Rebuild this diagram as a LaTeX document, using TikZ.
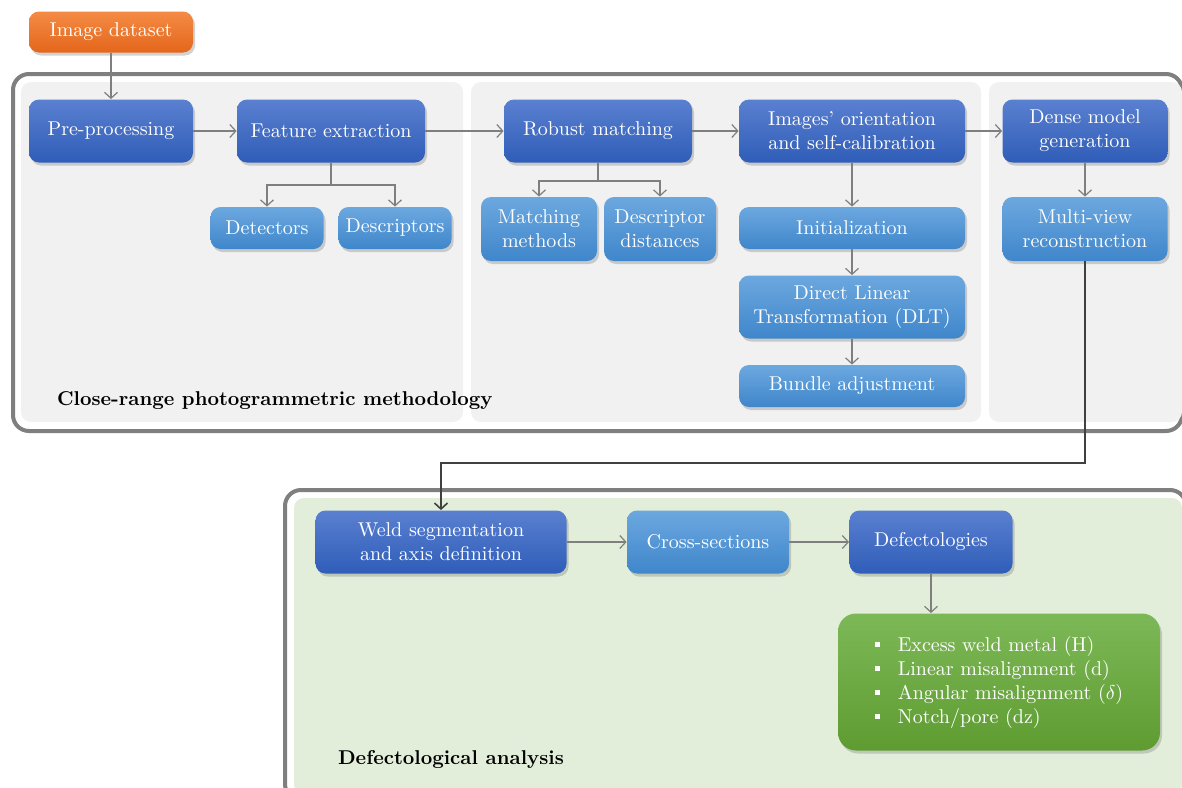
\documentclass[tikz,border=0pt]{standalone}
\usepackage{amssymb}
\usepackage{tikz}
\usetikzlibrary{arrows.meta,shadows}
\definecolor{darkblueT}{HTML}{5A80D0}
\definecolor{darkblueB}{HTML}{2F5DB8}
\definecolor{lightblueT}{HTML}{6CA8DF}
\definecolor{lightblueB}{HTML}{3F86CB}
\definecolor{orangeT}{HTML}{F48B45}
\definecolor{orangeB}{HTML}{E4661B}
\definecolor{greenT}{HTML}{7DB857}
\definecolor{greenB}{HTML}{5E9C31}
\definecolor{framegray}{HTML}{7F7F7F}
\definecolor{panelgray}{HTML}{F1F1F1}
\definecolor{panelgreen}{HTML}{E2EED9}
\definecolor{arrowgray}{HTML}{7F7F7F}
\newcommand{\panel}[4]{
    \fill[panelgray, rounded corners=5pt] (#1,#2) rectangle (#3,#4);
}
\newcommand{\listitem}[1]{\makebox[11.5pt][l]{\rule[2pt]{2.5pt}{2.5pt}}#1}
\tikzset{
    flowbox/.style={rounded corners=5pt, text=white, align=center, inner sep=0pt,
        font=\fontsize{10pt}{12pt}\selectfont,
        drop shadow={shadow xshift=1pt, shadow yshift=-1.5pt, opacity=0.35}},
    darkbox/.style={flowbox, top color=darkblueT, bottom color=darkblueB},
    lightbox/.style={flowbox, top color=lightblueT, bottom color=lightblueB},
    orangebox/.style={flowbox, top color=orangeT, bottom color=orangeB},
    greenbox/.style={flowbox, top color=greenT, bottom color=greenB, rounded corners=9pt},
    arr/.style={draw=arrowgray, line width=0.6pt, -{Straight Barb[length=3pt,width=6.5pt]}},
    longarr/.style={draw=black!75, line width=0.8pt, -{Straight Barb[length=3pt,width=6.5pt]}},
    framelabel/.style={anchor=west, font=\bfseries\fontsize{10pt}{12pt}\selectfont}
}

\begin{document}
\begin{tikzpicture}[x=0.5pt,y=-0.5pt]
        \useasboundingbox (0,0) rectangle (1182,787);
        \fill[white] (0,0) rectangle (1182,787);
        % photogrammetry frame
        \draw[framegray, line width=2pt, fill=white, rounded corners=8pt] (13,74) rectangle (1182,431);
        \panel{21}{82}{463}{422}
        \panel{471}{82}{981}{422}
        \panel{989}{82}{1182}{422}
        % defectological frame
        \draw[framegray, line width=2pt, fill=white, rounded corners=8pt] (285,490) rectangle (1186,800);
        \fill[panelgreen, rounded corners=5pt] (294,498) rectangle (1182,795);

        \node[orangebox, minimum width=82pt, minimum height=20.5pt] (dataset) at (111,32) {Image dataset};

        \node[darkbox, minimum width=82pt, minimum height=31.5pt] (pre) at (111,131) {Pre-processing};
        \node[darkbox, minimum width=94pt, minimum height=31.5pt] (feat) at (331,131) {Feature extraction};
        \node[lightbox, minimum width=56.5pt, minimum height=21pt] (det) at (267,228) {Detectors};
        \node[lightbox, minimum width=56.5pt, minimum height=21pt] (desc) at (395,228) {Descriptors};

        \node[darkbox, minimum width=94pt, minimum height=31.5pt] (robust) at (598,131) {Robust matching};
        \node[lightbox, minimum width=58pt, minimum height=32pt] (methods) at (539,229) {Matching\\methods};
        \node[lightbox, minimum width=56pt, minimum height=32pt] (dist) at (660,229) {Descriptor\\distances};

        \node[darkbox, minimum width=113pt, minimum height=31.5pt] (orient) at (852,131) {Images' orientation\\and self-calibration};
        \node[lightbox, minimum width=113pt, minimum height=21pt] (init) at (852,228) {Initialization};
        \node[lightbox, minimum width=113pt, minimum height=31.5pt] (dlt) at (852,307) {Direct Linear\\Transformation (DLT)};
        \node[lightbox, minimum width=113pt, minimum height=21pt] (bundle) at (852,386) {Bundle adjustment};

        \node[darkbox, minimum width=82.5pt, minimum height=31.5pt] (dense) at (1085,131) {Dense model\\generation};
        \node[lightbox, minimum width=82.5pt, minimum height=32pt] (multi) at (1085,229) {Multi-view\\reconstruction};

        \node[framelabel] (photolabel) at (50,401) {Close-range photogrammetric methodology};

        \node[darkbox, minimum width=125.5pt, minimum height=31.5pt] (weld) at (441,542) {Weld segmentation\\and axis definition};
        \node[lightbox, minimum width=81pt, minimum height=31.5pt] (cross) at (708,542) {Cross-sections};
        \node[darkbox, minimum width=81.5pt, minimum height=31.5pt] (defect) at (931,542) {Defectologies};
        \node[greenbox, minimum width=161pt, minimum height=68.5pt, align=left] (list) at (999,682)
            {\listitem{Excess weld metal (H)}\\\listitem{Linear misalignment (d)}\\\listitem{Angular misalignment ($\delta$)}\\\listitem{Notch/pore (dz)}};

        \node[framelabel] (defectlabel) at (331,759) {Defectological analysis};

        \coordinate (featsplit) at (331,185);
        \coordinate (robustsplit) at (598,181);
        \coordinate (turn) at (1085,463);

        \draw[arr] (dataset) -- (pre);
        \draw[arr] (pre) -- (feat);
        \draw[arr] (feat) -- (robust);
        \draw[arr] (robust) -- (orient);
        \draw[arr] (orient) -- (dense);
        \draw[draw=arrowgray, line width=0.6pt] (feat) -- (featsplit);
        \draw[arr] (featsplit) -| (det);
        \draw[arr] (featsplit) -| (desc);
        \draw[draw=arrowgray, line width=0.6pt] (robust) -- (robustsplit);
        \draw[arr] (robustsplit) -| (methods);
        \draw[arr] (robustsplit) -| (dist);
        \draw[arr] (orient) -- (init);
        \draw[arr] (init) -- (dlt);
        \draw[arr] (dlt) -- (bundle);
        \draw[arr] (dense) -- (multi);
        \draw[longarr] (multi) -- (turn) -| (weld);
        \draw[arr] (weld) -- (cross);
        \draw[arr] (cross) -- (defect);
        \draw[arr] (defect) -- (defect |- list.north);
\end{tikzpicture}
\end{document}
